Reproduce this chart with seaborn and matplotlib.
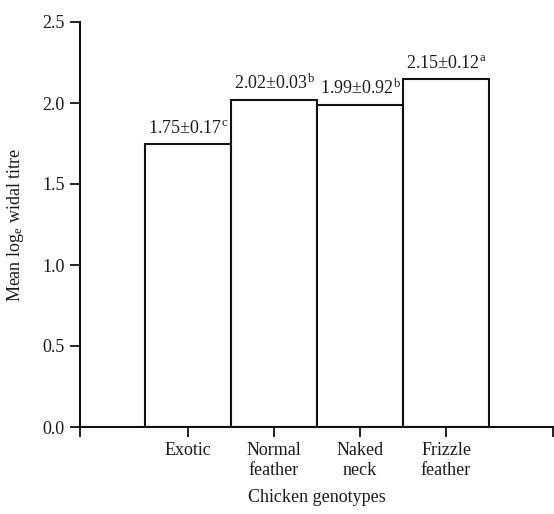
import matplotlib
matplotlib.use("Agg")
import matplotlib.pyplot as plt
import seaborn as sns
import pandas as pd

categories = ["Exotic", "Normal\nfeather", "Naked\nneck", "Frizzle\nfeather"]
means = [1.75, 2.02, 1.99, 2.15]
sems = ["0.17", "0.03", "0.92", "0.12"]
letters = ["c", "b", "b", "a"]
yticks = [0.0, 0.5, 1.0, 1.5, 2.0, 2.5]

sns.set_theme(style="ticks")
plt.rcParams["font.family"] = ["Liberation Serif", "DejaVu Serif"]
plt.rcParams["mathtext.fontset"] = "custom"
plt.rcParams["mathtext.rm"] = "Liberation Serif"
plt.rcParams["mathtext.it"] = "Liberation Serif"
plt.rcParams["mathtext.default"] = "regular"

FS = 13
TC = "#1a1a1a"

df = pd.DataFrame({"genotype": categories, "mean": means})

fig = plt.figure(figsize=(5.54, 5.14), dpi=100)
ax = fig.add_axes([80/554, 1 - 427/514, (553-80)/554, (427-22)/514])

sns.barplot(data=df, x="genotype", y="mean", ax=ax, color="white",
            edgecolor="#111111", linewidth=1.5, width=1.0, saturation=1)

for i, p in enumerate(ax.patches):
    x = p.get_x() + p.get_width() / 2
    ax.annotate(f"{means[i]:.2f}±{sems[i]}$^{{{letters[i]}}}$",
                (x, p.get_height()), xytext=(0, 5), textcoords="offset points",
                ha="center", va="bottom", fontsize=FS, color=TC)

ax.set_xlim(-1.256, 4.244)
ax.set_ylim(0, 2.5)
ax.set_xticks([-1.256, 0, 1, 2, 3, 4.244])
ax.set_xticklabels([""] + categories + [""], fontsize=FS, color=TC)
ax.set_yticks(yticks)
ax.set_yticklabels([f"{v:.1f}" for v in yticks], fontsize=FS, color=TC)
ax.tick_params(axis="both", direction="out", length=7, width=1.3, color="#111111", pad=4)
for s in ["top", "right"]:
    ax.spines[s].set_visible(False)
for s in ["left", "bottom"]:
    ax.spines[s].set_linewidth(1.5)
    ax.spines[s].set_color("#111111")
ax.set_xlabel("Chicken genotypes", fontsize=FS, color=TC, labelpad=7)
ax.set_ylabel("Mean log$_{e}$ widal titre", fontsize=FS, color=TC, labelpad=12)

fig.savefig("out.png", dpi=100)
